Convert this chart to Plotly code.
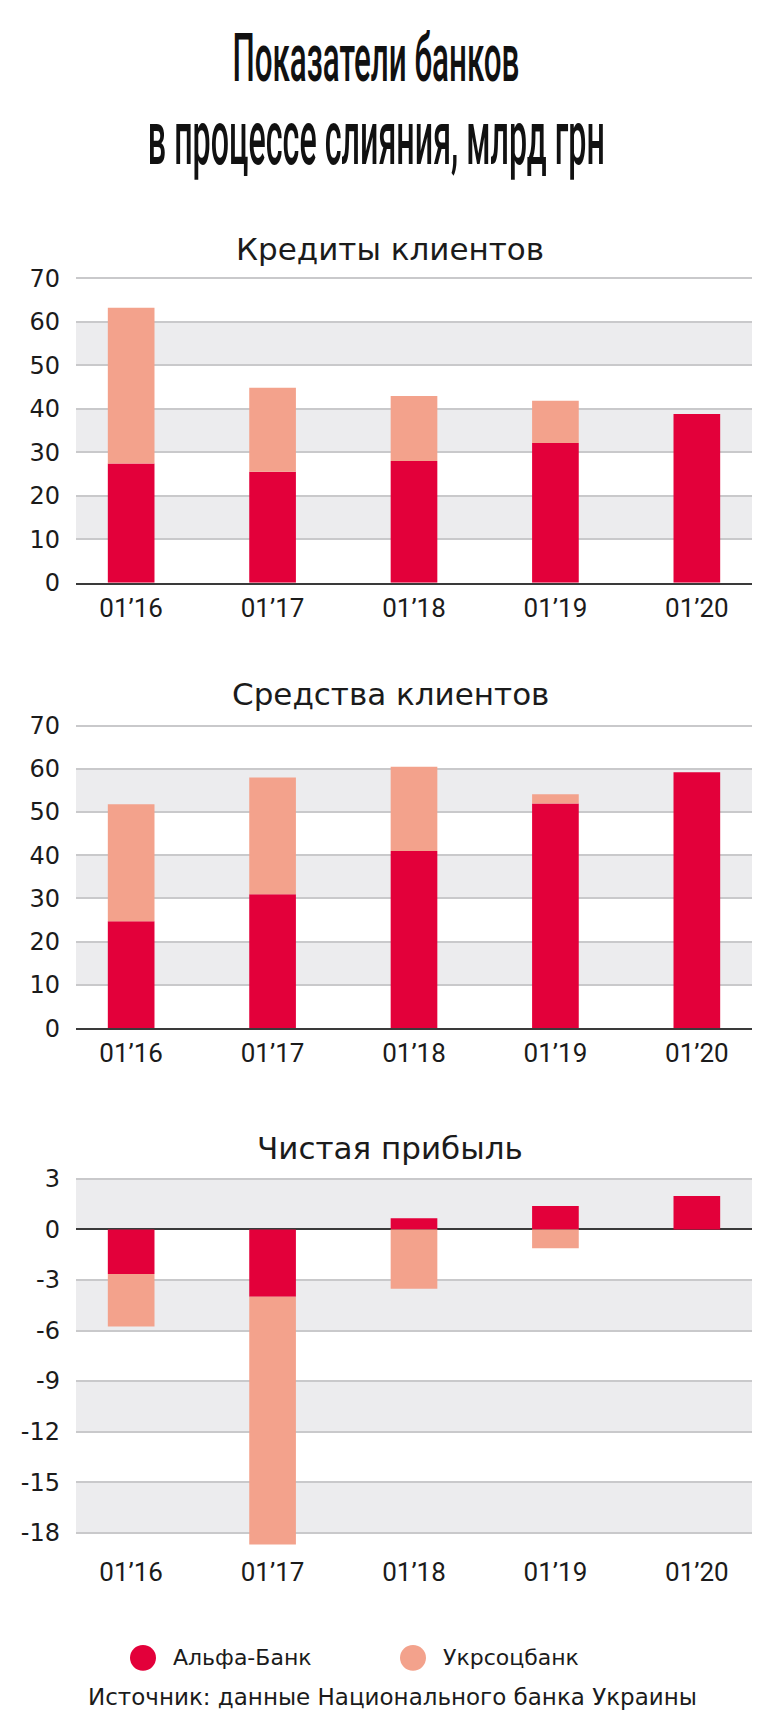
import plotly.graph_objects as go

W, H = 764, 1721

periods = ["01’16", "01’17", "01’18", "01’19", "01’20"]
series_names = ["Альфа-Банк", "Укрсоцбанк"]

loans_alfa = [27.4, 25.5, 28.0, 32.1, 38.8]
loans_ukr = [35.8, 19.3, 14.9, 9.7, None]

deposits_alfa = [24.7, 31.0, 41.0, 52.0, 59.2]
deposits_ukr = [27.1, 27.0, 19.5, 2.1, None]

profit_alfa = [-2.64, -4.0, 0.66, 1.39, 1.99]
profit_ukr = [-3.12, -14.7, -3.52, -1.11, None]

ticks_big = [0, 10, 20, 30, 40, 50, 60, 70]
ticks_profit = [3, 0, -3, -6, -9, -12, -15, -18]

panel_titles = ["Кредиты клиентов", "Средства клиентов", "Чистая прибыль"]
title_lines = ["Показатели банков", "в процессе слияния, млрд грн"]
source_text = "Источник: данные Национального банка Украины"

RED = "#e3003a"
PINK = "#f3a28c"
GRID = "#c9c9cb"
BAND = "#ececee"
TXT = "#1b1b1b"
WIDE = "DejaVu Sans, Noto Sans, sans-serif"
XFONT = "Roboto, Noto Sans, sans-serif"
TITLE_FONT = "Roboto, Noto Sans, sans-serif"


def py(p):
    return 1 - p / H


fig = go.Figure()

panels = [
    (loans_alfa, loans_ukr, "x", "y"),
    (deposits_alfa, deposits_ukr, "x2", "y2"),
    (profit_alfa, profit_ukr, "x3", "y3"),
]
for alfa, ukr, xa, ya in panels:
    fig.add_trace(go.Bar(x=periods, y=alfa, name=series_names[0], marker_color=RED,
                         marker_line_width=0, xaxis=xa, yaxis=ya, showlegend=False))
    fig.add_trace(go.Bar(x=periods, y=ukr, name=series_names[1], marker_color=PINK,
                         marker_line_width=0, xaxis=xa, yaxis=ya, showlegend=False))

xdom = [68 / W, 744 / W]
xr = [-0.39, 4.39]
xcommon = dict(range=xr, domain=xdom, showgrid=False, zeroline=False,
               tickfont=dict(family=XFONT, size=26, color=TXT), ticks="",
               fixedrange=True)

# pixel geometry of plot areas (top, bottom)
geo = {
    "y": (260.8, 572, [0, 70.5], ticks_big),
    "y2": (714.8, 1024, [0, 70.5], ticks_big),
    "y3": (1173.6, 1551.4, [-18.9, 3.2], ticks_profit),
}

layout = dict(
    width=W, height=H, margin=dict(l=0, r=0, t=0, b=0),
    paper_bgcolor="white", plot_bgcolor="rgba(0,0,0,0)",
    barmode="relative", bargap=0.67, showlegend=False,
)

for i, (ya, (top, bot, rng, tv)) in enumerate(geo.items()):
    xa = "x" if i == 0 else f"x{i+1}"
    xkey = "xaxis" if i == 0 else f"xaxis{i+1}"
    ykey = "yaxis" if i == 0 else f"yaxis{i+1}"
    xd = dict(xcommon, anchor=ya, ticklabelstandoff=1 if i < 2 else 6)
    if i < 2:
        xd.update(showline=True, linecolor="#3a3a3a", linewidth=2)
    layout[xkey] = xd
    yd = dict(range=rng, domain=[py(bot), py(top)], anchor=xa,
              tickvals=tv, ticktext=[str(v) for v in tv],
              showgrid=True, gridcolor=GRID, gridwidth=2,
              zeroline=(i == 2), zerolinecolor="#3a3a3a", zerolinewidth=2,
              tickfont=dict(family=WIDE, size=24, color=TXT),
              ticklabelstandoff=15, fixedrange=True)
    layout[ykey] = yd

fig.update_layout(**layout)

# alternating grey bands
shapes = []
band_sets = {
    "y": [(10, 20), (30, 40), (50, 60)],
    "y2": [(10, 20), (30, 40), (50, 60)],
    "y3": [(0, 3), (-6, -3), (-12, -9), (-18, -15)],
}
for i, (ya, bands) in enumerate(band_sets.items()):
    xa = "x" if i == 0 else f"x{i+1}"
    for lo, hi in bands:
        shapes.append(dict(type="rect", xref=f"{xa} domain", yref=ya, x0=0, x1=1,
                           y0=lo, y1=hi, fillcolor=BAND, line_width=0, layer="below"))

# legend circles
r = 13
for cx, col in [(135, RED), (405, PINK)]:
    shapes.append(dict(type="circle", xref="paper", yref="paper",
                       x0=(cx - r) / W, x1=(cx + r) / W,
                       y0=py(1663 + r), y1=py(1663 - r),
                       fillcolor=col, line_width=0))
fig.update_layout(shapes=shapes)

ann = []
for txt, yc in zip(title_lines, [40, 121]):
    ann.append(dict(text=txt, x=368 / W, y=py(yc), xref="paper", yref="paper",
                    showarrow=False, xanchor="center", yanchor="middle",
                    font=dict(family=TITLE_FONT, size=40, color="#111111", weight=500)))
for txt, yc in zip(panel_titles, [233, 685, 1146]):
    ann.append(dict(text=txt, x=0.5, y=py(yc), xref="paper", yref="paper",
                    showarrow=False, xanchor="center", yanchor="middle",
                    font=dict(family=WIDE, size=31, color=TXT)))
for txt, xl in zip(series_names, [163, 433]):
    ann.append(dict(text=txt, x=xl / W, y=py(1663), xref="paper", yref="paper",
                    showarrow=False, xanchor="left", yanchor="middle",
                    font=dict(family=WIDE, size=22, color=TXT)))
ann.append(dict(text=source_text, x=384 / W, y=py(1703), xref="paper", yref="paper",
                showarrow=False, xanchor="center", yanchor="middle",
                font=dict(family=WIDE, size=23, color=TXT)))
fig.update_layout(annotations=ann)

# condense the headline text (tall, narrow display face like the original)
post = """
var gd = document.getElementById('{plot_id}');
var specs = {};
specs['Показатели банков'] = [287, 1.65];
specs['в процессе слияния, млрд грн'] = [457, 1.9];
gd.querySelectorAll('text.annotation-text').forEach(function(t){
  var s = specs[t.textContent];
  if (!s) return;
  var bb = t.getBBox();
  var sx = s[0] / bb.width, sy = s[1];
  var cx = bb.x + bb.width / 2, cy = bb.y + bb.height / 2;
  t.setAttribute('transform', 'translate(' + cx + ',' + cy + ') scale(' + sx + ',' + sy + ') translate(' + (-cx) + ',' + (-cy) + ')');
});
"""

fig.write_html("out.html", config={"displayModeBar": False}, post_script=post)
